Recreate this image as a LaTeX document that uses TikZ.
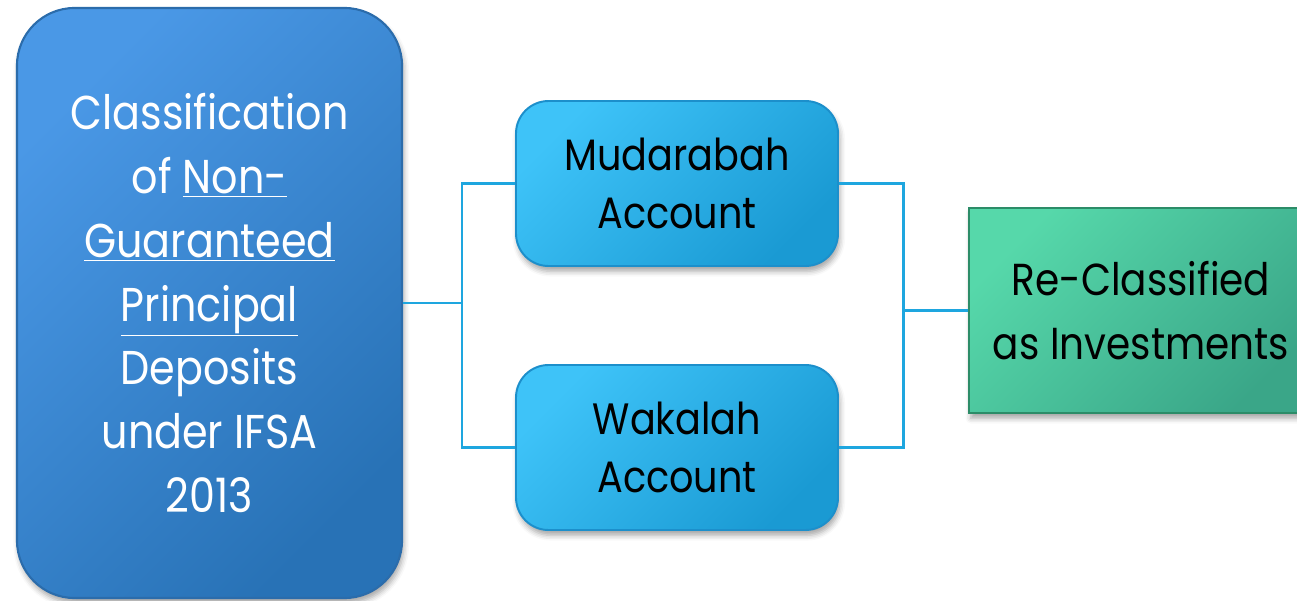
\documentclass[tikz,border=0pt]{standalone}
\usepackage{fontspec}
\setmainfont{Poppins}[FakeStretch=0.87]
\usetikzlibrary{shadows.blur}
\definecolor{bigtop}{HTML}{4A98E6}
\definecolor{bigbot}{HTML}{2872B6}
\definecolor{bigedge}{HTML}{2B6CAB}
\definecolor{acctop}{HTML}{3EC3F8}
\definecolor{accbot}{HTML}{1A9AD3}
\definecolor{accedge}{HTML}{1C8FCB}
\definecolor{invtop}{HTML}{56D8AA}
\definecolor{invbot}{HTML}{3AA688}
\definecolor{invedge}{HTML}{2C8C68}
\definecolor{linkcol}{HTML}{1EA6DF}
\tikzset{
  softshadow/.style={blur shadow={shadow xshift=1pt, shadow yshift=-3pt, shadow opacity=35, shadow blur radius=3pt}},
  bigbox/.style={draw=bigedge, line width=1.2pt, rounded corners=1.15cm,
    top color=bigtop, bottom color=bigbot, shading angle=45, softshadow,
    minimum width=7.7cm, minimum height=11.8cm, align=center, text=white,
    font=\fontsize{27}{36.3}\selectfont},
  accbox/.style={draw=accedge, line width=1.1pt, rounded corners=0.65cm,
    top color=acctop, bottom color=accbot, shading angle=45, softshadow,
    minimum width=6.44cm, minimum height=3.3cm, align=center, text=black,
    font=\fontsize{25}{33}\selectfont},
  invbox/.style={draw=invedge, line width=1.1pt,
    top color=invtop, bottom color=invbot, shading angle=45, softshadow,
    minimum width=6.88cm, minimum height=4.1cm, align=center, text=black,
    font=\fontsize{25.5}{36.3}\selectfont},
  link/.style={draw=linkcol, line width=1.7pt}
}
\begin{document}
\begin{tikzpicture}
\useasboundingbox (0,0) rectangle (25.94,12);
\clip (0,0) rectangle (25.94,12);
\node[bigbox] (class) at (4.19,5.94)
  {Classification\\of \underline{Non-}\\\underline{Guaranteed}\\\underline{Principal}\\Deposits\\under IFSA\\2013};
\node[accbox] (mud) at (13.54,8.33) {Mudarabah\\Account};
\node[accbox] (wak) at (13.54,3.05) {Wakalah\\Account};
\node[invbox] (inv) at (22.82,5.79) {Re-Classified\\as Investments};
\coordinate (jl) at (9.24,5.94);
\coordinate (jr) at (18.06,5.79);
\draw[link] (class.east) -- (jl);
\draw[link] (mud.west) -| (jl) |- (wak.west);
\draw[link] (mud.east) -| (jr) |- (wak.east);
\draw[link] (jr) -- (inv.west);
\end{tikzpicture}
\end{document}
